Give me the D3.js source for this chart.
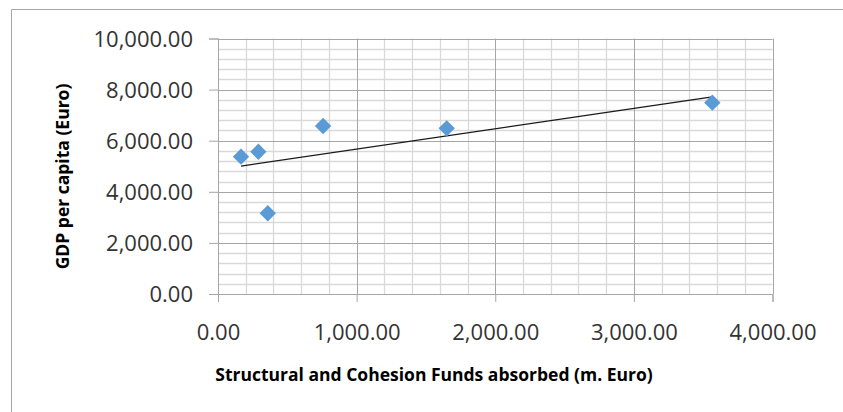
<!DOCTYPE html>
<html><head><meta charset="utf-8">
<script src="https://cdn.jsdelivr.net/npm/d3@7/dist/d3.min.js"></script>
<style>body{margin:0;background:#fff;} svg{display:block;}</style>
</head><body>
<svg id="c" width="843" height="412"></svg>
<script>
const fundsX = [166, 291, 758, 1650, 359, 3566];
const gdpY = [5374, 5569, 6575, 6485, 3159, 7487];
const xTicks = [0, 1000, 2000, 3000, 4000];
const yTicks = [0, 2000, 4000, 6000, 8000, 10000];
const xTitle = "Structural and Cohesion Funds absorbed (m. Euro)";
const yTitle = "GDP per capita (Euro)";

const svg = d3.select("#c");
const x = d3.scaleLinear().domain([0, 4000]).range([218, 772.5]);
const y = d3.scaleLinear().domain([0, 10000]).range([294, 38.5]);
const fmt = d3.format(",.2f");

// outer frame (top and left visible)
svg.append("path").attr("d", "M11.5,412V9.5H843").attr("fill", "none").attr("stroke", "#a6a6a6").attr("stroke-width", 1);

const g = svg.append("g");
// minor grid
const xMinor = d3.range(0, 4001, 200).filter(v => v % 1000 !== 0);
const yMinor = d3.range(0, 10001, 400).filter(v => v % 2000 !== 0);
g.selectAll(".mx").data(xMinor).join("line")
  .attr("x1", d => Math.round(x(d)) + 0.5).attr("x2", d => Math.round(x(d)) + 0.5)
  .attr("y1", y(0)).attr("y2", y(10000)).attr("stroke", "#d9d9d9").attr("stroke-width", 1.3);
g.selectAll(".my").data(yMinor).join("line")
  .attr("y1", d => Math.round(y(d)) + 0.5).attr("y2", d => Math.round(y(d)) + 0.5)
  .attr("x1", x(0)).attr("x2", x(4000)).attr("stroke", "#d9d9d9").attr("stroke-width", 1.3);
// major grid
g.selectAll(".Mx").data(xTicks).join("line")
  .attr("x1", d => Math.round(x(d)) + 0.5).attr("x2", d => Math.round(x(d)) + 0.5)
  .attr("y1", y(0)).attr("y2", y(10000)).attr("stroke", "#a6a6a6").attr("stroke-width", 1);
g.selectAll(".My").data(yTicks).join("line")
  .attr("y1", d => Math.round(y(d)) + 0.5).attr("y2", d => Math.round(y(d)) + 0.5)
  .attr("x1", x(0)).attr("x2", x(4000)).attr("stroke", "#a6a6a6").attr("stroke-width", 1);

// axes
const xAxis = d3.axisBottom(x).tickValues(xTicks).tickFormat(fmt).tickSize(8).tickPadding(22);
const yAxis = d3.axisLeft(y).tickValues(yTicks).tickFormat(fmt).tickSize(9).tickPadding(16);
const gx = svg.append("g").attr("transform", `translate(0,${y(0)})`).call(xAxis);
const gy = svg.append("g").attr("transform", `translate(${x(0)},0)`).call(yAxis);
[gx, gy].forEach(a => {
  a.select(".domain").attr("stroke", "#a6a6a6");
  a.selectAll(".tick line").attr("stroke", "#a6a6a6");
  a.selectAll(".tick text").attr("fill", "#333333").attr("font-family", "Open Sans").attr("font-size", 22);
});
gx.selectAll(".tick text").attr("dy", "0.71em");
gy.selectAll(".tick text").attr("dy", "0.36em");

// trendline (least squares)
const mx = d3.mean(fundsX), my = d3.mean(gdpY);
const slope = d3.sum(fundsX, (v, i) => (v - mx) * (gdpY[i] - my)) / d3.sum(fundsX, v => (v - mx) ** 2);
const icpt = my - slope * mx;
const [x0, x1] = d3.extent(fundsX);
svg.append("line").attr("x1", x(x0)).attr("y1", y(icpt + slope * x0))
  .attr("x2", x(x1)).attr("y2", y(icpt + slope * x1)).attr("stroke", "#1a1a1a").attr("stroke-width", 1.3);

// points
const diamond = d3.symbol().type(d3.symbolDiamond2).size(170);
svg.selectAll(".pt").data(fundsX).join("path")
  .attr("d", diamond)
  .attr("transform", (d, i) => `translate(${x(d)},${y(gdpY[i])})`)
  .attr("fill", "#5b9bd5");

// titles
svg.append("text").attr("x", 434).attr("y", 381).attr("text-anchor", "middle")
  .attr("font-family", "Open Sans").attr("font-weight", "bold").attr("font-size", 17.5).attr("fill", "#000")
  .text(xTitle);
svg.append("text").attr("transform", "translate(69,176.5) rotate(-90)").attr("text-anchor", "middle")
  .attr("font-family", "Open Sans").attr("font-weight", "bold").attr("font-size", 17.5).attr("fill", "#000")
  .text(yTitle);
</script>
</body></html>
